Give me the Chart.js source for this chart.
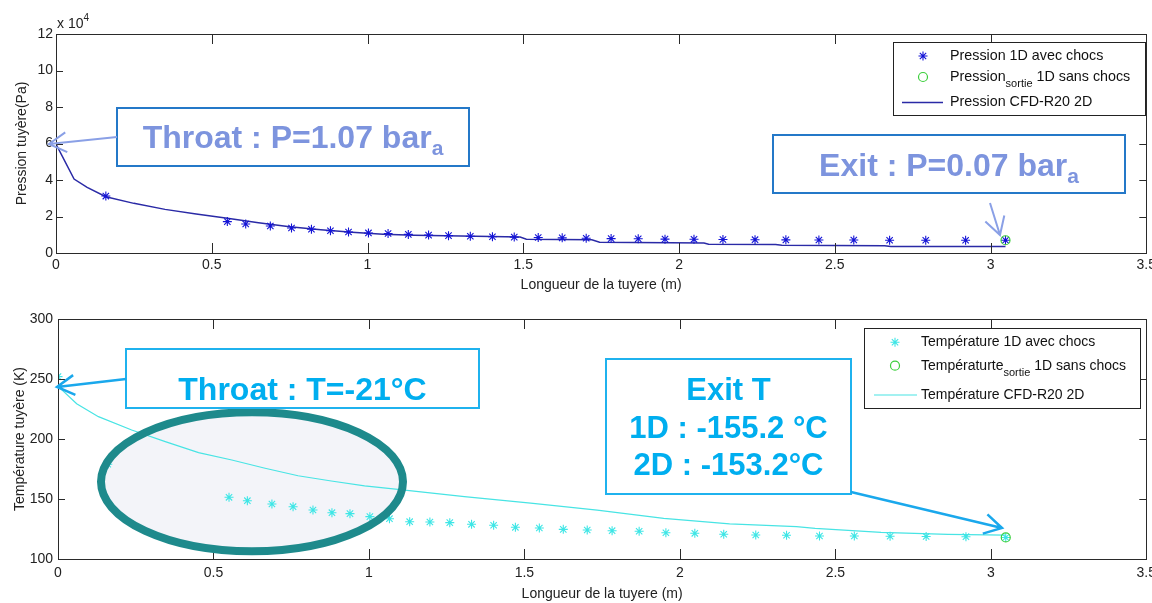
<!DOCTYPE html>
<html>
<head>
<meta charset="utf-8">
<script src="https://cdn.jsdelivr.net/npm/chart.js@4.4.0/dist/chart.umd.min.js"></script>
<style>
  body { margin: 0; background: #fff; }
  canvas { display: block; }
</style>
</head>
<body>
<canvas id="pression" width="1152" height="300"></canvas>
<canvas id="temperature" width="1152" height="303"></canvas>
<script>
// positions le long de la tuyère (m) du calcul 1D
const x1D = [0.16, 0.55, 0.609, 0.688, 0.756, 0.82, 0.881, 0.939, 1.003, 1.066, 1.131, 1.196, 1.26, 1.33, 1.401, 1.471,
  1.548, 1.625, 1.702, 1.782, 1.869, 1.955, 2.048, 2.141, 2.244, 2.343, 2.449, 2.561, 2.676, 2.792, 2.92, 3.048];

// pression 1D avec chocs (Pa)
const p1D = [31200, 17200, 15900, 14800, 13700, 13000, 12200, 11500, 11000, 10700, 10200, 9800, 9500, 9200, 8900, 8700,
  8500, 8300, 8100, 7900, 7800, 7600, 7500, 7400, 7300, 7200, 7100, 7100, 7000, 7000, 7000, 7000];

// pression de sortie 1D sans chocs
const xSortie = 3.048;
const pSortie = 7000;

// pression CFD-R20 2D
const xCFDp = [0, 0.058, 0.1, 0.16, 0.25, 0.35, 0.45, 0.55, 0.65, 0.75, 0.85, 0.95, 1.05, 1.15, 1.3, 1.49, 1.51,
  1.72, 1.745, 2.08, 2.095, 2.31, 2.33, 2.66, 2.68, 3.048];
const pCFD = [59700, 40500, 36000, 30800, 27200, 23900, 21400, 19000, 16600, 14400, 12800, 11400, 10300, 9700, 9300,
  8700, 7600, 7300, 5900, 5500, 4800, 4600, 4200, 4000, 3500, 3500];

// température 1D avec chocs (K), premier point au col
const xT1D = [0].concat(x1D);
const t1D = [252, 179, 151.4, 148.6, 145.8, 143.6, 140.8, 138.6, 137.8, 135.3, 133.6, 131.1, 130.8, 130.3, 128.9, 128.1, 126.4,
  125.8, 124.7, 124.2, 123.6, 123.1, 121.9, 121.4, 120.6, 120, 119.8, 119.2, 119.2, 119, 118.8, 118.6, 117.95];

const tSortie = 117.95;

// température CFD-R20 2D
const xCFDt = [0, 0.06, 0.13, 0.237, 0.345, 0.452, 0.559, 0.666, 0.772, 0.879, 0.986, 1.093, 1.307, 1.52, 1.734,
  1.948, 2.16, 2.375, 2.435, 2.647, 2.862, 3.048];
const tCFD = [244, 229.4, 218.6, 207.5, 197.8, 188.6, 182.5, 175.6, 169.4, 165, 161, 158, 152, 146.5, 140.8,
  133.9, 129.2, 127, 125.6, 122.2, 120.6, 119.95];

const xTicks = { min: 0, max: 3.5, step: 0.5 };

const FONT = "'Liberation Sans', Arial, sans-serif";
const pts = (xs, ys) => xs.map((v, i) => ({ x: v, y: ys[i] }));

// cadre + graduations intérieures façon matlab
const axisFrame = {
  id: 'axisFrame',
  afterDatasetsDraw(chart) {
    const { ctx, chartArea: a, scales: { x, y } } = chart;
    ctx.save();
    ctx.strokeStyle = '#2a2a2a';
    ctx.lineWidth = 1;
    ctx.beginPath();
    x.ticks.forEach(t => {
      const px = Math.round(x.getPixelForValue(t.value)) + 0.5;
      ctx.moveTo(px, a.bottom); ctx.lineTo(px, a.bottom - 10);
      ctx.moveTo(px, a.top); ctx.lineTo(px, a.top + 10);
    });
    y.ticks.forEach(t => {
      const py = Math.round(y.getPixelForValue(t.value)) + 0.5;
      ctx.moveTo(a.left, py); ctx.lineTo(a.left + 7, py);
      ctx.moveTo(a.right, py); ctx.lineTo(a.right - 7, py);
    });
    ctx.stroke();
    ctx.strokeRect(Math.round(a.left) + 0.5, Math.round(a.top) + 0.5, Math.round(a.width), Math.round(a.height));
    ctx.restore();
  }
};

function drawArrow(ctx, x0, y0, x1, y1, head) {
  const ang = Math.atan2(y0 - y1, x0 - x1);
  ctx.beginPath();
  ctx.moveTo(x0, y0);
  ctx.lineTo(x1, y1);
  ctx.moveTo(x1 + head * Math.cos(ang - 0.52), y1 + head * Math.sin(ang - 0.52));
  ctx.lineTo(x1, y1);
  ctx.lineTo(x1 + head * Math.cos(ang + 0.52), y1 + head * Math.sin(ang + 0.52));
  ctx.stroke();
}

// texte avec indice / exposant : [[texte, 'n'|'s'|'sup'], ...]
function drawRich(ctx, parts, x, y, size, subSize, subDrop, weight, align) {
  const sizeOf = p => (p[1] === 'n' ? size : subSize);
  const w = parts.map(p => {
    ctx.font = `${weight} ${sizeOf(p)}px ${FONT}`;
    return ctx.measureText(p[0]).width;
  });
  const total = w.reduce((s, v) => s + v, 0);
  let cx = align === 'center' ? x - total / 2 : x;
  ctx.textAlign = 'left';
  parts.forEach((p, i) => {
    ctx.font = `${weight} ${sizeOf(p)}px ${FONT}`;
    const dy = p[1] === 's' ? subDrop : p[1] === 'sup' ? -subDrop : 0;
    ctx.fillText(p[0], cx, y + dy);
    cx += w[i];
  });
}

const decor = {
  id: 'decor',
  beforeDatasetsDraw(chart, args, o) {
    if (!o.ellipse) return;
    const e = o.ellipse;
    const ctx = chart.ctx;
    ctx.save();
    ctx.fillStyle = '#f3f4f9';
    ctx.beginPath();
    ctx.ellipse(e.cx, e.cy, e.rx, e.ry, 0, 0, Math.PI * 2);
    ctx.fill();
    ctx.restore();
  },
  afterDraw(chart, args, o) {
    const ctx = chart.ctx;
    ctx.save();
    if (o.ellipse) {
      const e = o.ellipse;
      ctx.strokeStyle = '#1e8a8c';
      ctx.lineWidth = 8;
      ctx.beginPath();
      ctx.ellipse(e.cx, e.cy, e.rx, e.ry, 0, 0, Math.PI * 2);
      ctx.stroke();
    }
    if (o.exponent) {
      ctx.fillStyle = '#222';
      ctx.textBaseline = 'alphabetic';
      drawRich(ctx, [['x 10', 'n'], ['4', 'sup']], 57, 28, 14, 10, 7, 'normal', 'left');
    }
    // légende
    const L = o.legend;
    ctx.fillStyle = '#fff';
    ctx.fillRect(L.x, L.y, L.w, L.h);
    ctx.strokeStyle = '#222';
    ctx.lineWidth = 1;
    ctx.strokeRect(L.x + 0.5, L.y + 0.5, L.w, L.h);
    L.rows.forEach(r => {
      const ds = chart.data.datasets[r.ds];
      if (r.kind === 'line') {
        ctx.strokeStyle = ds.borderColor;
        ctx.lineWidth = ds.borderWidth;
        ctx.beginPath();
        ctx.moveTo(L.lineX0, r.y); ctx.lineTo(L.lineX1, r.y);
        ctx.stroke();
      } else {
        ctx.strokeStyle = ds.borderColor;
        ctx.fillStyle = 'rgba(0,0,0,0)';
        ctx.lineWidth = ds.borderWidth;
        Chart.helpers.drawPoint(ctx, { pointStyle: ds.pointStyle, radius: ds.pointRadius, borderWidth: ds.borderWidth, rotation: 0 }, L.markX, r.y);
      }
      ctx.fillStyle = '#111';
      ctx.textBaseline = 'middle';
      drawRich(ctx, r.text, L.textX, r.y, L.size, 11, 7, 'normal', 'left');
    });
    // encadrés + flèches
    o.boxes.forEach(b => {
      ctx.fillStyle = '#fff';
      ctx.fillRect(b.x, b.y, b.w, b.h);
      ctx.strokeStyle = b.border;
      ctx.lineWidth = 2;
      ctx.strokeRect(b.x, b.y, b.w, b.h);
      ctx.fillStyle = b.color;
      ctx.textBaseline = 'alphabetic';
      b.lines.forEach(l => drawRich(ctx, l.parts, b.x + b.w / 2, l.base, b.size, 21, 7, 'bold', 'center'));
      ctx.strokeStyle = b.arrowColor;
      ctx.lineWidth = b.arrowWidth;
      drawArrow(ctx, b.arrow[0], b.arrow[1], b.arrow[2], b.arrow[3], 20);
    });
    ctx.restore();
  }
};

function axisX(padTicks, height) {
  return {
    type: 'linear', min: xTicks.min, max: xTicks.max,
    grid: { display: false, drawTicks: false }, border: { display: false },
    ticks: { stepSize: xTicks.step, padding: padTicks, color: '#222', font: { family: FONT, size: 14 },
      maxRotation: 0, autoSkip: false, callback: v => String(+v.toFixed(1)) },
    title: { display: true, text: 'Longueur de la tuyere (m)', color: '#222', font: { family: FONT, size: 14 },
      padding: 0 },
    afterFit(s) { s.height = height; s.paddingLeft = 0; s.paddingRight = 0; }
  };
}

const pressionChart = new Chart(document.getElementById('pression'), {
  type: 'scatter',
  data: {
    datasets: [
      { label: 'Pression sortie 1D sans chocs', data: [{ x: xSortie, y: pSortie }], pointStyle: 'circle',
        pointRadius: 4.5, borderColor: '#3ccf3c', backgroundColor: 'rgba(0,0,0,0)', borderWidth: 1.2, order: 0 },
      { label: 'Pression 1D avec chocs', data: pts(x1D, p1D), pointStyle: 'star', pointRadius: 4.5,
        borderColor: '#1414d6', backgroundColor: '#1414d6', borderWidth: 1.1, order: 1 },
      { label: 'Pression CFD-R20 2D', data: pts(xCFDp, pCFD), showLine: true, pointRadius: 0,
        borderColor: '#2a2aa6', borderWidth: 1.5, order: 2 }
    ]
  },
  options: {
    responsive: false, animation: false, devicePixelRatio: 1,
    layout: { padding: { top: 34, right: 4, left: 0, bottom: 6 } },
    plugins: {
      legend: { display: false }, tooltip: { enabled: false },
      decor: {
        exponent: true,
        legend: { x: 893, y: 42, w: 252, h: 73, markX: 923, lineX0: 902, lineX1: 943, textX: 950, size: 14.3,
          rows: [
            { ds: 1, kind: 'point', y: 56, text: [['Pression 1D avec chocs', 'n']] },
            { ds: 0, kind: 'point', y: 77, text: [['Pression', 'n'], ['sortie', 's'], [' 1D sans chocs', 'n']] },
            { ds: 2, kind: 'line', y: 102.5, text: [['Pression CFD-R20 2D', 'n']] }
          ] },
        boxes: [
          { x: 117, y: 108, w: 352, h: 58, border: '#2478c8', color: '#7d94de', size: 32,
            lines: [{ base: 148, parts: [['Throat : P=1.07 bar', 'n'], ['a', 's']] }],
            arrowColor: '#8aa0e6', arrowWidth: 2, arrow: [117, 137, 49, 144] },
          { x: 773, y: 135, w: 352, h: 58, border: '#2478c8', color: '#7d94de', size: 32,
            lines: [{ base: 176, parts: [['Exit : P=0.07 bar', 'n'], ['a', 's']] }],
            arrowColor: '#8aa0e6', arrowWidth: 2, arrow: [990, 203, 1000, 235] }
        ]
      }
    },
    scales: {
      x: axisX(4, 41),
      y: {
        type: 'linear', min: 0, max: 120000,
        grid: { display: false, drawTicks: false }, border: { display: false },
        ticks: { stepSize: 20000, padding: 3, color: '#222', font: { family: FONT, size: 14 },
          callback: v => v / 10000 },
        title: { display: true, text: 'Pression tuyère(Pa)', color: '#222', font: { family: FONT, size: 14 }, padding: { top: 14 } },
        afterFit(s) { s.width = 56; s.paddingTop = 0; s.paddingBottom = 0; }
      }
    }
  },
  plugins: [axisFrame, decor]
});

const temperatureChart = new Chart(document.getElementById('temperature'), {
  type: 'scatter',
  data: {
    datasets: [
      { label: 'Températurte sortie 1D sans chocs', data: [{ x: xSortie, y: tSortie }], pointStyle: 'circle',
        pointRadius: 4.5, borderColor: '#3ccf3c', backgroundColor: 'rgba(0,0,0,0)', borderWidth: 1.2, order: 0 },
      { label: 'Température 1D avec chocs', data: pts(xT1D, t1D), pointStyle: 'star', pointRadius: 4.5,
        borderColor: '#3ee6e6', backgroundColor: '#3ee6e6', borderWidth: 1.1, order: 1 },
      { label: 'Température CFD-R20 2D', data: pts(xCFDt, tCFD), showLine: true, pointRadius: 0,
        borderColor: '#48e4e4', borderWidth: 1.2, order: 2 }
    ]
  },
  options: {
    responsive: false, animation: false, devicePixelRatio: 1,
    layout: { padding: { top: 19, right: 5, left: 0, bottom: 0 } },
    plugins: {
      legend: { display: false }, tooltip: { enabled: false },
      decor: {
        ellipse: { cx: 252, cy: 181.7, rx: 151, ry: 69.5 },
        legend: { x: 864, y: 28, w: 276, h: 80, markX: 895, lineX0: 874, lineX1: 917, textX: 921, size: 14,
          rows: [
            { ds: 1, kind: 'point', y: 42.3, text: [['Température 1D avec chocs', 'n']] },
            { ds: 0, kind: 'point', y: 65.7, text: [['Températurte', 'n'], ['sortie', 's'], [' 1D sans chocs', 'n']] },
            { ds: 2, kind: 'line', y: 95, text: [['Température CFD-R20 2D', 'n']] }
          ] },
        boxes: [
          { x: 126, y: 49, w: 353, h: 59, border: '#1fb2ee', color: '#00aeef', size: 32,
            lines: [{ base: 100, parts: [['Throat : T=-21°C', 'n']] }],
            arrowColor: '#1aa8ec', arrowWidth: 2.5, arrow: [126, 79, 57, 87] },
          { x: 606, y: 59, w: 245, h: 135, border: '#1fb2ee', color: '#00aeef', size: 31,
            lines: [
              { base: 100, parts: [['Exit T', 'n']] },
              { base: 137.5, parts: [['1D : -155.2 °C', 'n']] },
              { base: 175, parts: [['2D : -153.2°C', 'n']] }
            ],
            arrowColor: '#1aa8ec', arrowWidth: 2.5, arrow: [851, 192, 1002, 228] }
        ]
      }
    },
    scales: {
      x: axisX(6, 44),
      y: {
        type: 'linear', min: 100, max: 300,
        grid: { display: false, drawTicks: false }, border: { display: false },
        ticks: { stepSize: 50, padding: 5, color: '#222', font: { family: FONT, size: 14 } },
        title: { display: true, text: 'Température tuyère (K)', color: '#222', font: { family: FONT, size: 14 }, padding: { top: 12 } },
        afterFit(s) { s.width = 58; s.paddingTop = 0; s.paddingBottom = 0; }
      }
    }
  },
  plugins: [axisFrame, decor]
});
</script>
</body>
</html>
